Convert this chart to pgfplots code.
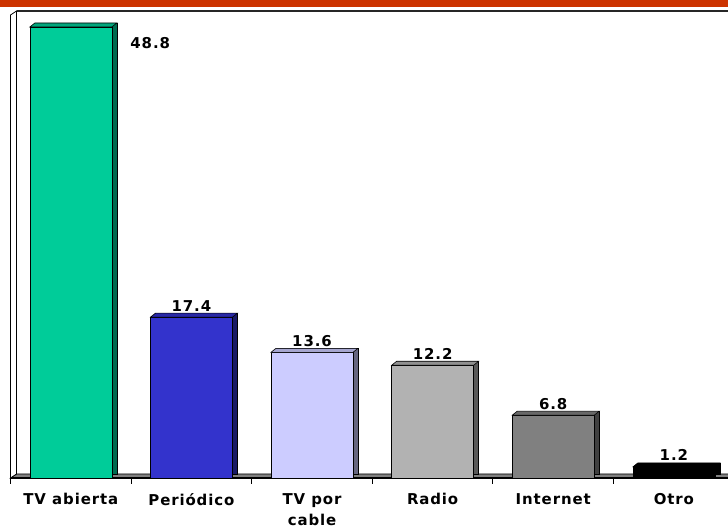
\documentclass[border=0pt]{standalone}
\usepackage{pgfplots}
\pgfplotsset{compat=1.18}
\usepackage{fontspec}
\setmainfont{DejaVu Sans}
\newfontfamily\verd{DejaVu Sans Bold}[LetterSpace=6]
\definecolor{orangebar}{HTML}{CC3300}
\definecolor{gfront}{HTML}{00CC99}\definecolor{gtop}{HTML}{00A67C}\definecolor{gside}{HTML}{006B50}
\definecolor{bfront}{HTML}{3333CC}\definecolor{btop}{HTML}{2828A6}\definecolor{bside}{HTML}{1A1A66}
\definecolor{lfront}{HTML}{CCCCFF}\definecolor{ltop}{HTML}{A6A6D0}\definecolor{lside}{HTML}{666680}
\definecolor{rfront}{HTML}{B2B2B2}\definecolor{rtop}{HTML}{909090}\definecolor{rside}{HTML}{595959}
\definecolor{ifront}{HTML}{808080}\definecolor{itop}{HTML}{686868}\definecolor{iside}{HTML}{404040}
\definecolor{ofront}{HTML}{000000}
\pgfdeclareplotmark{topface}{%
  \pgfpathmoveto{\pgfqpoint{-41bp}{0bp}}%
  \pgfpathlineto{\pgfqpoint{41bp}{0bp}}%
  \pgfpathlineto{\pgfqpoint{46bp}{4bp}}%
  \pgfpathlineto{\pgfqpoint{-36bp}{4bp}}%
  \pgfpathclose
  \pgfusepathqfillstroke}
\newcommand{\lblfont}{\verd\fontsize{15}{21}\selectfont}
\begin{document}
\begin{tikzpicture}[x=1bp,y=1bp]
\useasboundingbox (0,0) rectangle (728,532);
\fill[orangebar] (0,525) rectangle (728,532);
% floor
\filldraw[fill=ifront, draw=black, line width=0.8bp] (10.5,54) -- (760,54) -- (760,58) -- (16.5,58) -- cycle;
% left wall
\filldraw[fill=white, draw=black, line width=0.8bp] (10.5,54) -- (10.5,517) -- (16.5,521) -- (16.5,58) -- cycle;
% back wall top
\draw[black!85, line width=1.5bp] (16.5,521) -- (760,521);
\begin{axis}[
  at={(10.5bp,54bp)}, anchor=south west,
  scale only axis, width=717.5bp, height=463bp,
  xmin=-0.5, xmax=5.449, ymin=0, ymax=50.1,
  clip=false,
  axis x line*=bottom, hide y axis,
  x axis line style={black, line width=1.2bp, -},
  xtick={0,1,2,3,4,5},
  xticklabels={TV abierta, Periódico, {TV por\\cable}, Radio, Internet, Otro},
  major tick length=0pt,
  xticklabel style={font=\lblfont, align=center, anchor=north, yshift=-12bp, text=black},
  extra x ticks={-0.5,0.5,1.5,2.5,3.5,4.5},
  extra x tick labels={},
  extra x tick style={major tick length=6bp, tick align=outside, tick style={black, line width=1bp}},
  /pgf/number format/assume math mode=true,
  side/.style={ybar, bar width=82bp, bar shift=0pt, draw=black, line width=0.6bp, xshift=5bp, yshift=4bp, forget plot},
  front/.style={ybar, bar width=82bp, bar shift=0pt, draw=black, line width=0.6bp, forget plot,
    nodes near coords, /pgf/number format/.cd, fixed, precision=1, fixed zerofill, assume math mode=true, /pgfplots/.cd,
    every node near coord/.append style={anchor=base, yshift=6bp, font=\lblfont, text=black}},
  topf/.style={only marks, mark=topface, forget plot},
]
% TV abierta
\addplot[side, fill=gside] coordinates {(0,48.8)};
\addplot[front, fill=gfront, every node near coord/.append style={anchor=base west, xshift=56bp, yshift=-28bp}] coordinates {(0,48.8)};
\addplot[topf, mark options={fill=gtop, draw=black, line width=0.6bp}] coordinates {(0,48.8)};
% Periodico
\addplot[side, fill=bside] coordinates {(1,17.4)};
\addplot[front, fill=bfront] coordinates {(1,17.4)};
\addplot[topf, mark options={fill=btop, draw=black, line width=0.6bp}] coordinates {(1,17.4)};
% TV por cable
\addplot[side, fill=lside] coordinates {(2,13.6)};
\addplot[front, fill=lfront] coordinates {(2,13.6)};
\addplot[topf, mark options={fill=ltop, draw=black, line width=0.6bp}] coordinates {(2,13.6)};
% Radio
\addplot[side, fill=rside] coordinates {(3,12.2)};
\addplot[front, fill=rfront] coordinates {(3,12.2)};
\addplot[topf, mark options={fill=rtop, draw=black, line width=0.6bp}] coordinates {(3,12.2)};
% Internet
\addplot[side, fill=iside] coordinates {(4,6.8)};
\addplot[front, fill=ifront] coordinates {(4,6.8)};
\addplot[topf, mark options={fill=itop, draw=black, line width=0.6bp}] coordinates {(4,6.8)};
% Otro
\addplot[side, fill=ofront] coordinates {(5,1.2)};
\addplot[front, fill=ofront] coordinates {(5,1.2)};
\addplot[topf, mark options={fill=ofront, draw=black, line width=0.6bp}] coordinates {(5,1.2)};
\end{axis}
\end{tikzpicture}
\end{document}
